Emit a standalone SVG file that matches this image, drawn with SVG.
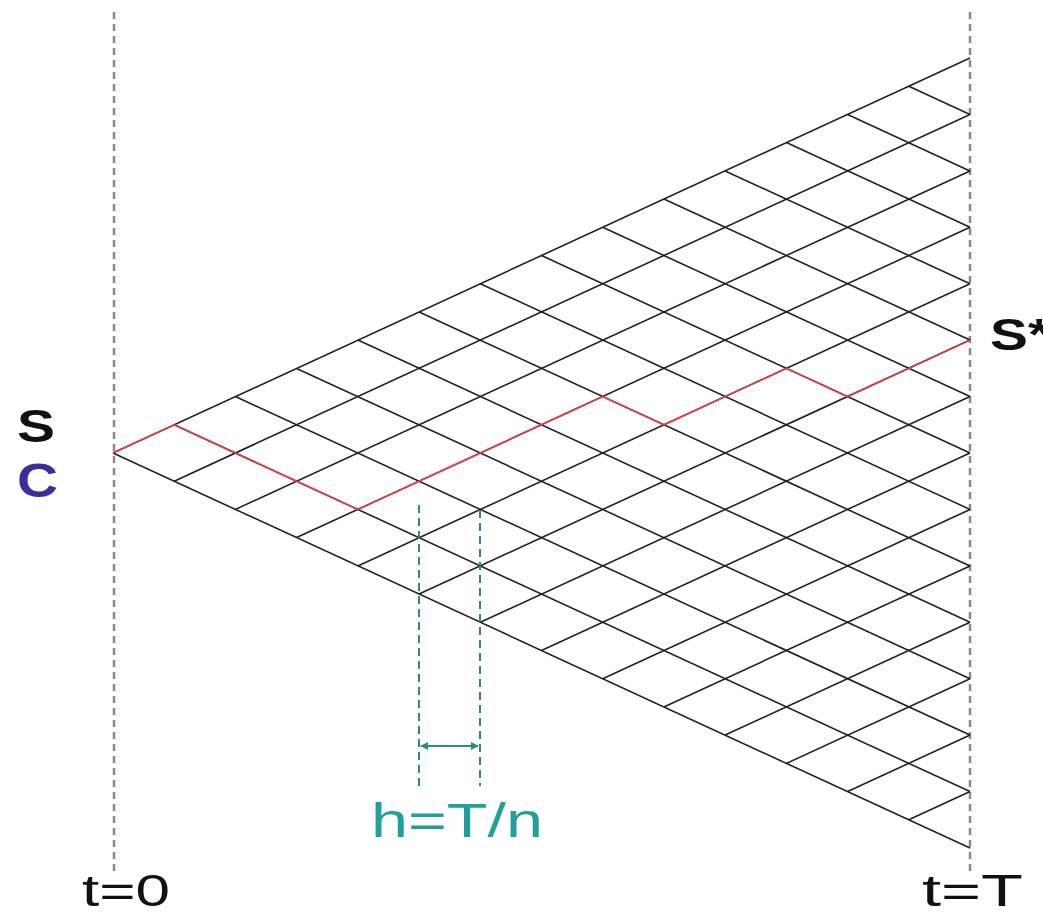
<svg xmlns="http://www.w3.org/2000/svg" width="1043" height="917" viewBox="0 0 1043 917">
<style>
.grid{stroke:#222;stroke-width:1.6;fill:none}
.red{stroke:#ee3f48;stroke-width:1.5;fill:none}
.gdash{stroke:#8a8a8a;stroke-width:2.5;stroke-dasharray:7 5;fill:none}
.tdash{stroke:#2a8a80;stroke-width:2;stroke-dasharray:8 5;fill:none}
.lbl{font-family:"Liberation Sans",Arial,sans-serif}
</style>
<defs>
<marker id="ah" viewBox="0 0 10 10" refX="9" refY="5" markerWidth="4" markerHeight="4" orient="auto-start-reverse" markerUnits="strokeWidth">
<path d="M0,0 L10,5 L0,10 z" fill="#2a8a80"/>
</marker>
</defs>
<rect width="1043" height="917" fill="#ffffff"/>
<g id="time-axes">
<line class="gdash" x1="114" y1="12" x2="114" y2="876"/>
<line class="gdash" x1="970" y1="12" x2="970" y2="876"/>
</g>
<g id="connectors">
<g id="lattice-up">
<line class="grid" x1="113" y1="453" x2="970" y2="58"/>
<line class="grid" x1="174.2" y1="481.2" x2="970" y2="114.4"/>
<line class="grid" x1="235.4" y1="509.4" x2="970" y2="170.9"/>
<line class="grid" x1="296.6" y1="537.6" x2="970" y2="227.3"/>
<line class="grid" x1="357.9" y1="565.9" x2="970" y2="283.7"/>
<line class="grid" x1="419.1" y1="594.1" x2="970" y2="340.1"/>
<line class="grid" x1="480.3" y1="622.3" x2="970" y2="396.6"/>
<line class="grid" x1="541.5" y1="650.5" x2="970" y2="453"/>
<line class="grid" x1="602.7" y1="678.7" x2="970" y2="509.4"/>
<line class="grid" x1="663.9" y1="706.9" x2="970" y2="565.9"/>
<line class="grid" x1="725.1" y1="735.1" x2="970" y2="622.3"/>
<line class="grid" x1="786.4" y1="763.4" x2="970" y2="678.7"/>
<line class="grid" x1="847.6" y1="791.6" x2="970" y2="735.1"/>
<line class="grid" x1="908.8" y1="819.8" x2="970" y2="791.6"/>
</g>
<g id="lattice-down">
<line class="grid" x1="113" y1="453" x2="970" y2="848"/>
<line class="grid" x1="174.2" y1="424.8" x2="970" y2="791.6"/>
<line class="grid" x1="235.4" y1="396.6" x2="970" y2="735.1"/>
<line class="grid" x1="296.6" y1="368.4" x2="970" y2="678.7"/>
<line class="grid" x1="357.9" y1="340.1" x2="970" y2="622.3"/>
<line class="grid" x1="419.1" y1="311.9" x2="970" y2="565.9"/>
<line class="grid" x1="480.3" y1="283.7" x2="970" y2="509.4"/>
<line class="grid" x1="541.5" y1="255.5" x2="970" y2="453"/>
<line class="grid" x1="602.7" y1="227.3" x2="970" y2="396.6"/>
<line class="grid" x1="663.9" y1="199.1" x2="970" y2="340.1"/>
<line class="grid" x1="725.1" y1="170.9" x2="970" y2="283.7"/>
<line class="grid" x1="786.4" y1="142.6" x2="970" y2="227.3"/>
<line class="grid" x1="847.6" y1="114.4" x2="970" y2="170.9"/>
<line class="grid" x1="908.8" y1="86.2" x2="970" y2="114.4"/>
</g>
<polyline id="path" class="red" points="113,453 174.2,424.8 235.4,453 296.6,481.2 357.9,509.4 419.1,481.2 480.3,453 541.5,424.8 602.7,396.6 663.9,424.8 725.1,396.6 786.4,368.4 847.6,396.6 908.8,368.4 970,340.1"/>
</g>
<g id="step-marker">
<line class="tdash" x1="419" y1="505" x2="419" y2="786"/>
<line class="tdash" x1="480" y1="510" x2="480" y2="786"/>
<line x1="421" y1="746" x2="478" y2="746" stroke="#2a8a80" stroke-width="2" marker-start="url(#ah)" marker-end="url(#ah)"/>
<text class="lbl" x="371" y="837" font-size="48" fill="#20a09a" textLength="172" lengthAdjust="spacingAndGlyphs">h=T/n</text>
</g>
<g id="label-S">
<text class="lbl" x="17" y="442" font-size="47" font-weight="bold" fill="#111" textLength="38" lengthAdjust="spacingAndGlyphs">S</text>
</g>
<g id="label-C">
<text class="lbl" x="17" y="497" font-size="48" font-weight="bold" fill="#3d2c9c" textLength="41" lengthAdjust="spacingAndGlyphs">C</text>
</g>
<g id="label-Sstar">
<text class="lbl" x="990" y="350" font-size="45" font-weight="bold" fill="#111" textLength="60" lengthAdjust="spacingAndGlyphs">S*</text>
</g>
<g id="label-t0">
<text class="lbl" x="82" y="906" font-size="45" fill="#111" textLength="88" lengthAdjust="spacingAndGlyphs">t=0</text>
</g>
<g id="label-tT">
<text class="lbl" x="922" y="906" font-size="45" fill="#111" textLength="101" lengthAdjust="spacingAndGlyphs">t=T</text>
</g>
</svg>
